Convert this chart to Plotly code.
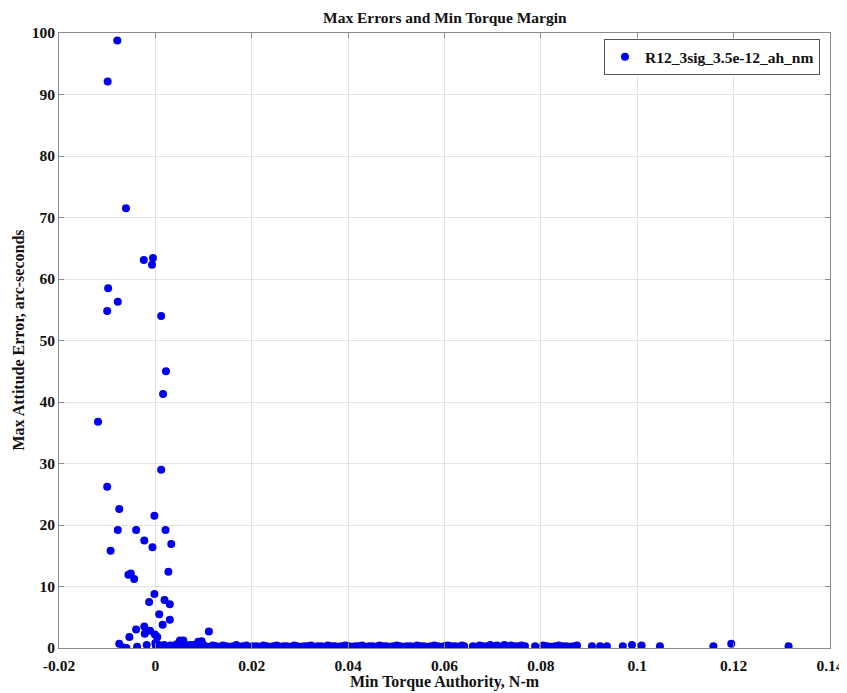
import plotly.graph_objects as go

# Sparse (large-error) points: min torque authority (N-m), max attitude error (arc-sec)
sparse_x = [-0.0079, -0.0099, -0.0061, -0.0024, -0.0005, -0.0007, -0.0098, -0.0078,
            -0.0100, 0.0012, 0.0022, 0.0016, -0.0119, 0.0012, -0.0100, -0.0075,
            -0.0002, -0.0078, -0.0040, 0.0021, -0.0023, 0.0033, -0.0006, -0.0093,
            -0.0056, -0.0051, -0.0044, 0.0027, -0.0002, -0.0013, 0.0019, 0.0030,
            0.0008, 0.0030, 0.0015, -0.0040, -0.0023, -0.0022, -0.0011, -0.0001,
            0.0004, -0.0054, 0.0111, -0.0075, -0.0067, -0.0060, -0.0038, -0.0018,
            0.0000, 0.0001, 0.0007, 0.0051, 0.0058, 0.0089, 0.0096, 0.0079]
sparse_y = [98.8, 92.1, 71.5, 63.1, 63.4, 62.3, 58.5, 56.3,
            54.8, 54.0, 45.0, 41.3, 36.8, 29.0, 26.2, 22.6,
            21.5, 19.2, 19.2, 19.2, 17.5, 16.9, 16.4, 15.8,
            11.9, 12.1, 11.2, 12.4, 8.8, 7.5, 7.8, 7.1,
            5.5, 4.6, 3.8, 3.0, 3.5, 2.3, 2.8, 2.2,
            1.8, 1.8, 2.7, 0.7, 0.1, 0.0, 0.2, 0.5,
            0.8, 0.4, 0.4, 1.2, 1.2, 1.0, 1.1, 0.5]

# Dense low-error band
band_x = [0.0005, 0.0012, 0.0018, 0.0025, 0.0031, 0.0038, 0.0044, 0.0052, 0.0058, 0.0065,
          0.0071, 0.0078, 0.0085, 0.0091, 0.0098, 0.0104, 0.0112, 0.0119, 0.0126, 0.0133,
          0.0140, 0.0147, 0.0153, 0.0161, 0.0168, 0.0174, 0.0181, 0.0189, 0.0196, 0.0203,
          0.0210, 0.0217, 0.0224, 0.0231, 0.0238, 0.0245, 0.0252, 0.0259, 0.0266, 0.0273,
          0.0281, 0.0288, 0.0294, 0.0302, 0.0309, 0.0316, 0.0323, 0.0330, 0.0337, 0.0344,
          0.0351, 0.0358, 0.0366, 0.0373, 0.0380, 0.0386, 0.0394, 0.0401, 0.0408, 0.0415,
          0.0422, 0.0429, 0.0437, 0.0444, 0.0451, 0.0458, 0.0465, 0.0472, 0.0479, 0.0486,
          0.0493, 0.0501, 0.0508, 0.0515, 0.0522, 0.0529, 0.0536, 0.0543, 0.0550, 0.0557,
          0.0565, 0.0572, 0.0579, 0.0586, 0.0593, 0.0600, 0.0607, 0.0614, 0.0622, 0.0629,
          0.0636, 0.0641, 0.0659, 0.0666, 0.0673, 0.0680, 0.0688, 0.0695, 0.0702, 0.0709,
          0.0716, 0.0724, 0.0731, 0.0738, 0.0745, 0.0752, 0.0760, 0.0767, 0.0788, 0.0805,
          0.0813, 0.0821, 0.0829, 0.0837, 0.0845, 0.0853, 0.0861, 0.0868, 0.0875,
          0.0906, 0.0923, 0.0937, 0.0970, 0.0989, 0.1009, 0.1047, 0.1158, 0.1195, 0.1314]
band_y = [0.6, 0.3, 0.5, 0.2, 0.4, 0.3, 0.6, 0.2, 0.4, 0.3,
          0.5, 0.2, 0.4, 0.3, 0.6, 0.3, 0.2, 0.4, 0.3, 0.2,
          0.4, 0.3, 0.2, 0.3, 0.5, 0.2, 0.3, 0.4, 0.2, 0.3,
          0.3, 0.2, 0.4, 0.3, 0.2, 0.3, 0.4, 0.2, 0.3, 0.3,
          0.2, 0.4, 0.3, 0.2, 0.3, 0.3, 0.4, 0.2, 0.3, 0.3,
          0.2, 0.4, 0.3, 0.3, 0.2, 0.3, 0.4, 0.3, 0.2, 0.3,
          0.3, 0.4, 0.2, 0.3, 0.3, 0.2, 0.4, 0.3, 0.3, 0.2,
          0.3, 0.4, 0.3, 0.2, 0.3, 0.3, 0.2, 0.4, 0.3, 0.3,
          0.2, 0.3, 0.4, 0.3, 0.2, 0.3, 0.4, 0.3, 0.3, 0.2,
          0.4, 0.3, 0.3, 0.2, 0.4, 0.3, 0.3, 0.5, 0.3, 0.4,
          0.2, 0.5, 0.3, 0.4, 0.3, 0.3, 0.4, 0.3, 0.3, 0.4,
          0.3, 0.2, 0.3, 0.4, 0.3, 0.3, 0.2, 0.3, 0.4,
          0.3, 0.3, 0.3, 0.3, 0.5, 0.4, 0.3, 0.3, 0.7, 0.3]

all_x = sparse_x + band_x
all_y = sparse_y + band_y

x_ticks = [-0.02, 0, 0.02, 0.04, 0.06, 0.08, 0.1, 0.12, 0.14]
x_tick_text = ["-0.02", "0", "0.02", "0.04", "0.06", "0.08", "0.1", "0.12", "0.14"]
y_ticks = [0, 10, 20, 30, 40, 50, 60, 70, 80, 90, 100]

FONT = "Liberation Serif"
TXT = "#111111"

fig = go.Figure()
fig.add_trace(go.Scatter(
    x=all_x, y=all_y, mode="markers",
    name="R12_3sig_3.5e-12_ah_nm",
    marker=dict(color="#0000ee", size=8, line=dict(width=0)),
))

axis_common = dict(
    showline=True, linecolor="#8a8a8a", linewidth=1, mirror="ticks",
    ticks="inside", ticklen=5, tickcolor="#8a8a8a",
    showgrid=True, gridcolor="#e3e3e3", gridwidth=1, zeroline=False,
    automargin=False,
    tickfont=dict(family=FONT, size=15.5, color=TXT, weight="bold"),
)

# The page body adds an 8px margin, so the figure is sized to fit the window.
fig.update_layout(
    width=839, height=685,
    paper_bgcolor="white", plot_bgcolor="white",
    margin=dict(l=51, r=17, t=25, b=45),
    showlegend=True,
    font=dict(family=FONT, color=TXT),
    xaxis=dict(range=[-0.02, 0.14], tickvals=x_ticks, ticktext=x_tick_text,
               ticklabelstandoff=3, **axis_common),
    yaxis=dict(range=[0, 100], tickvals=y_ticks, **axis_common),
    legend=dict(x=0.987, y=0.99, xanchor="right", yanchor="top",
                bordercolor="#555555", borderwidth=1, bgcolor="white",
                font=dict(family=FONT, size=15.5, color=TXT, weight="bold")),
    annotations=[
        dict(text="Max Errors and Min Torque Margin", xref="paper", yref="paper",
             x=0.5, y=1, yshift=16, xanchor="center", yanchor="middle",
             showarrow=False, font=dict(family=FONT, size=15.5, color=TXT, weight="bold")),
        dict(text="Min Torque Authority, N-m", xref="paper", yref="paper",
             x=0.5, y=0, yshift=-34, xanchor="center", yanchor="middle",
             showarrow=False, font=dict(family=FONT, size=16, color=TXT, weight="bold")),
        dict(text="Max Attitude Error, arc-seconds", xref="paper", yref="paper",
             x=0, y=0.5, xshift=-41, xanchor="center", yanchor="middle", textangle=-90,
             showarrow=False, font=dict(family=FONT, size=16, color=TXT, weight="bold")),
    ],
)

fig.write_html("out.html")
